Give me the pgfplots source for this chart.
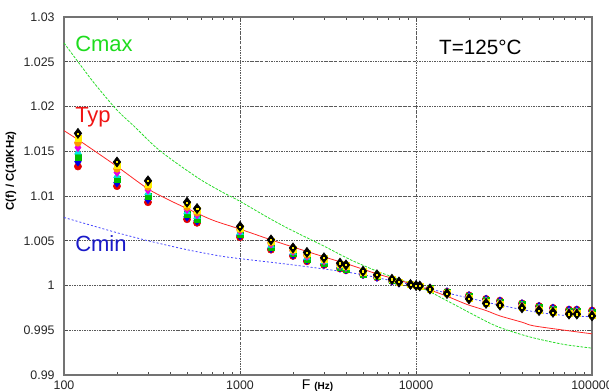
\documentclass[border=0pt]{standalone}
\usepackage{pgfplots}
\pgfplotsset{compat=1.18}
\usepackage{pgfplotstable}
\usepackage{fontspec}
\setmainfont{Liberation Sans}

\definecolor{cmaxc}{RGB}{40,220,40}
\definecolor{typc}{RGB}{255,40,40}
\definecolor{cminc}{RGB}{70,70,255}
\definecolor{cmaxt}{RGB}{30,220,30}
\definecolor{typt}{RGB}{240,20,20}
\definecolor{cmint}{RGB}{25,25,200}
\definecolor{mred}{RGB}{230,0,0}
\definecolor{mblue}{RGB}{0,0,230}
\definecolor{mgreen}{RGB}{0,190,0}
\definecolor{mcyan}{RGB}{0,230,230}
\definecolor{mmag}{RGB}{230,0,230}
\definecolor{morange}{RGB}{255,150,0}
\definecolor{myellow}{RGB}{255,240,0}

\pgfplotstableread{
f s0 s1 s2 s3 s4 s5 s6 s7
120 1.01700 1.01647 1.01594 1.01541 1.01489 1.01436 1.01383 1.01330
200 1.01380 1.01341 1.01303 1.01264 1.01226 1.01187 1.01149 1.01110
300 1.01170 1.01136 1.01101 1.01067 1.01033 1.00999 1.00964 1.00930
500 1.00930 1.00903 1.00876 1.00849 1.00821 1.00794 1.00767 1.00740
570 1.00860 1.00837 1.00814 1.00791 1.00769 1.00746 1.00723 1.00700
1000 1.00660 1.00643 1.00626 1.00609 1.00591 1.00574 1.00557 1.00540
1500 1.00510 1.00494 1.00479 1.00463 1.00447 1.00431 1.00416 1.00400
2000 1.00420 1.00407 1.00394 1.00381 1.00369 1.00356 1.00343 1.00330
2400 1.00370 1.00356 1.00341 1.00327 1.00313 1.00299 1.00284 1.00270
3000 1.00310 1.00299 1.00287 1.00276 1.00264 1.00253 1.00241 1.00230
3700 1.00250 1.00241 1.00233 1.00224 1.00216 1.00207 1.00199 1.00190
4000 1.00230 1.00221 1.00213 1.00204 1.00196 1.00187 1.00179 1.00170
5000 1.00160 1.00154 1.00149 1.00143 1.00137 1.00131 1.00126 1.00120
6000 1.00120 1.00116 1.00111 1.00107 1.00103 1.00099 1.00094 1.00090
7300 1.00070 1.00067 1.00064 1.00061 1.00059 1.00056 1.00053 1.00050
8000 1.00040 1.00039 1.00037 1.00036 1.00034 1.00033 1.00031 1.00030
9300 1.00012 1.00011 1.00011 1.00010 1.00010 1.00009 1.00009 1.00008
10000 1.00000 1.00000 1.00000 1.00000 1.00000 1.00000 1.00000 1.00000
10500 0.99995 0.99995 0.99995 0.99995 0.99995 0.99995 0.99995 0.99995
12000 0.99960 0.99961 0.99963 0.99964 0.99966 0.99967 0.99969 0.99970
15000 0.99910 0.99913 0.99916 0.99919 0.99921 0.99924 0.99927 0.99930
20000 0.99850 0.99856 0.99861 0.99867 0.99873 0.99879 0.99884 0.99890
25000 0.99800 0.99807 0.99814 0.99821 0.99829 0.99836 0.99843 0.99850
30000 0.99780 0.99787 0.99794 0.99801 0.99809 0.99816 0.99823 0.99830
40000 0.99750 0.99757 0.99764 0.99771 0.99779 0.99786 0.99793 0.99800
50000 0.99720 0.99727 0.99734 0.99741 0.99749 0.99756 0.99763 0.99770
60000 0.99700 0.99707 0.99714 0.99721 0.99729 0.99736 0.99743 0.99750
74000 0.99680 0.99687 0.99694 0.99701 0.99709 0.99716 0.99723 0.99730
82000 0.99680 0.99687 0.99694 0.99701 0.99709 0.99716 0.99723 0.99730
100000 0.99660 0.99669 0.99677 0.99686 0.99694 0.99703 0.99711 0.99720
}\meas

\begin{document}
\begin{tikzpicture}
\begin{axis}[
  at={(0,0)}, anchor=south west,
  scale only axis, width=396pt, height=268.5pt,
  xmode=log, xmin=100, xmax=100000, ymin=0.99, ymax=1.03,
  xtick={100,1000,10000,100000}, xticklabels={100,1000,10000,100000},
  ytick={0.99,0.995,1,1.005,1.01,1.015,1.02,1.025,1.03},
  yticklabels={0.99,0.995,1,1.005,1.01,1.015,1.02,1.025,1.03},
  ticklabel style={font=\fontsize{9.3}{10}\selectfont, text=black!85},
  xticklabel style={yshift=-0.6pt},
  yticklabel style={xshift=-3.5pt},
  xmajorgrids, ymajorgrids,
  major grid style={black!65, line width=0.45pt, dash pattern=on 1.6pt off 0.8pt on 0.5pt off 0.8pt},
  axis line style={black!55, line width=0.8pt},
  tick style={black!70, line width=0.5pt},
  major tick length=3pt, minor tick length=2pt,
  clip=false,
]
\addplot[cmaxc, line width=0.6pt, dash pattern=on 2pt off 1pt, smooth] coordinates {
(100,1.0271) (120,1.0250) (150,1.0225) (200,1.0196) (250,1.0178) (330,1.0155)
(420,1.0139) (600,1.0118) (800,1.0104) (1000,1.0094) (1500,1.0074) (2000,1.0061)
(3000,1.0044) (4220,1.0029) (6000,1.0016) (8000,1.0007) (10000,1.0000)
(12000,0.9993) (15000,0.9983) (20000,0.9970) (25000,0.9960) (30000,0.9953)
(40000,0.9945) (50000,0.9940) (70000,0.9934) (100000,0.9930)};
\addplot[typc, line width=0.6pt, smooth] coordinates {
(100,1.0173) (120,1.0163) (150,1.0150) (200,1.0133) (300,1.0108) (400,1.0095)
(500,1.0086) (700,1.0073) (1000,1.0063) (1500,1.0051) (2000,1.0043) (3000,1.0032)
(4220,1.0023) (6000,1.0013) (8000,1.0006) (10000,1.0000) (12000,0.9995)
(15000,0.9988) (19400,0.9979) (25000,0.9972) (30000,0.9966) (40000,0.9959)
(46400,0.9955) (70000,0.9950) (100000,0.9946)};
\addplot[cminc, line width=0.6pt, dash pattern=on 1.5pt off 1.5pt, smooth] coordinates {
(100,1.0076) (150,1.0066) (200,1.0059) (300,1.0050) (500,1.0040) (770,1.0033)
(1000,1.0030) (2000,1.0023) (3700,1.0016) (5000,1.0012) (7000,1.0006)
(8800,1.0002) (10000,1.0000) (12000,0.9996) (20000,0.9986) (30000,0.9978)
(46000,0.9971) (66000,0.9967) (100000,0.9965)};

\addplot[only marks, mark=*, mark size=2.7pt, mark options={draw=mred, fill=mred}] table[x=f,y=s7] {\meas};
\addplot[only marks, mark=diamond*, mark size=3.3pt, mark options={draw=mblue, fill=mblue}] table[x=f,y=s6] {\meas};
\addplot[only marks, mark=square*, mark size=2.3pt, mark options={draw=mgreen, fill=mgreen}] table[x=f,y=s5] {\meas};
\addplot[only marks, mark=triangle*, mark size=2.9pt, mark options={draw=mcyan, fill=mcyan}] table[x=f,y=s4] {\meas};
\addplot[only marks, mark=diamond*, mark size=3.1pt, mark options={draw=mmag, fill=mmag}] table[x=f,y=s3] {\meas};
\addplot[only marks, mark=*, mark size=2.6pt, mark options={draw=morange, fill=morange}] table[x=f,y=s2] {\meas};
\addplot[only marks, mark=square*, mark size=2.3pt, mark options={draw=myellow, fill=myellow}] table[x=f,y=s1] {\meas};
\addplot[only marks, mark=diamond*, mark size=3.8pt, mark options={draw=black, fill=black, line width=0.4pt}] table[x=f,y=s0] {\meas};
\addplot[only marks, mark=square*, mark size=0.45pt, mark options={draw=myellow, fill=myellow, line width=0.2pt}] table[x=f,y=s0] {\meas};

\node[anchor=base west, inner sep=0, text=cmaxt, font=\fontsize{16.5}{18}\selectfont] at (rel axis cs:0.0208,0.903) {Cmax};
\node[anchor=base west, inner sep=0, text=typt, font=\fontsize{16.5}{18}\selectfont] at (rel axis cs:0.0208,0.7039) {Typ};
\node[anchor=base west, inner sep=0, text=cmint, font=\fontsize{16.5}{18}\selectfont] at (rel axis cs:0.0208,0.3436) {Cmin};
\node[anchor=base west, inner sep=0, text=black, font=\fontsize{15.5}{18}\selectfont] at (rel axis cs:0.710,0.8966) {T=125\textdegree C};
\node[rotate=90, inner sep=0, font=\bfseries\fontsize{8.5}{10}\selectfont] at (rel axis cs:-0.1004,0.57) {C(f) / C(10KHz)};
\node[anchor=base west, inner sep=0] at (rel axis cs:0.45,-0.0405) {\fontsize{10.5}{12}\selectfont F \bfseries\fontsize{7.5}{8}\selectfont(Hz)};
\end{axis}
\pgfresetboundingbox
\useasboundingbox (-48pt,-12pt) rectangle (408.75pt,281.25pt);
\end{tikzpicture}
\end{document}
